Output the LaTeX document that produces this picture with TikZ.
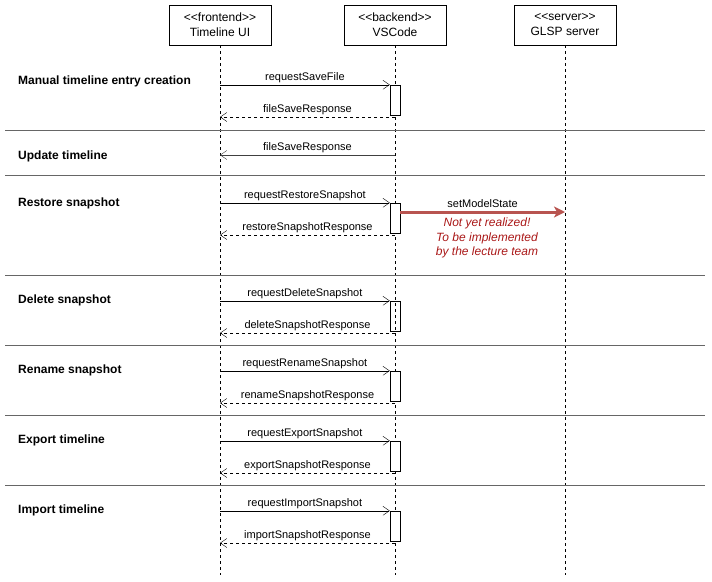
\documentclass[tikz,border=0pt]{standalone}
\usepackage{fontspec}
\setmainfont{Liberation Sans}[Ligatures=TeXOff]
\usepackage{tikz}
\usetikzlibrary{arrows.meta}
\usepackage{xcolor}
\definecolor{arrowred}{HTML}{B85450}
\definecolor{notered}{HTML}{AA1818}

\tikzset{
  head/.style={draw, fill=white, minimum width=102pt, minimum height=40pt, align=center,
    font=\fontsize{12}{15}\selectfont},
  lifeline/.style={dash pattern=on 3pt off 3pt},
  actbox/.style={draw, minimum width=10pt, minimum height=30pt, inner sep=0pt},
  msg/.style={-{Straight Barb[length=6.5pt,width=9pt]}},
  reply/.style={msg, dash pattern=on 3pt off 3pt},
  lbl/.style={above, inner sep=2pt},
  sep/.style={draw=black!60, line width=0.8pt},
  phase/.style={anchor=west, inner sep=0pt, font=\bfseries\fontsize{12}{14}\selectfont},
}

\begin{document}
\begin{tikzpicture}[x=1pt, y=-1pt, font=\fontsize{11}{13}\selectfont]
                \useasboundingbox (0,0) rectangle (712,581);
                % participants
                \node[head] (ui) at (220,25) {<<frontend>>\\Timeline UI};
                \node[head] (vs) at (395,25) {<<backend>>\\VSCode};
                \node[head] (glsp) at (565,25) {<<server>>\\GLSP server};
                \coordinate (uiend) at (220,575);
                \coordinate (vsend) at (395,575);
                \coordinate (glspend) at (565,575);
                \draw[lifeline] (ui) -- (uiend);
                \draw[lifeline] (vs) -- (vsend);
                \draw[lifeline] (glsp) -- (glspend);
                % phase separators
                \foreach \y in {130,175,275,345,415,485} {
                        \draw[sep] (5,\y) -- (705,\y);
                    }
                % request / response pairs
                \foreach \n/\y/\ty/\title/\req/\resp/\fc in {
                        1/85/81/Manual timeline entry creation/requestSaveFile/fileSaveResponse/white,
                        2/203/203/Restore snapshot/requestRestoreSnapshot/restoreSnapshotResponse/white,
                        3/301/300/Delete snapshot/requestDeleteSnapshot/deleteSnapshotResponse/none,
                        4/371/370/Rename snapshot/requestRenameSnapshot/renameSnapshotResponse/white,
                        5/441/440/Export timeline/requestExportSnapshot/exportSnapshotResponse/white,
                        6/511/510/Import timeline/requestImportSnapshot/importSnapshotResponse/white} {
                        \node[phase] (title\n) at (18,\ty) {\title};
                        \node[actbox, fill=\fc] (act\n) at (395,\y+15) {};
                        \coordinate (ret\n) at (395,\y+32);
                        \draw[msg] (ui |- act\n.north) -- node[lbl] {\req} (act\n.north west);
                        \draw[reply] (ret\n) -- node[lbl] {\resp} (ui |- ret\n);
                    }
                % update timeline
                \node[phase] (titleupd) at (18,156) {Update timeline};
                \coordinate (upd) at (395,155);
                \draw[msg, draw=black!75] (upd) -- node[lbl, text=black] {fileSaveResponse} (ui |- upd);
                % not yet realized call
                \coordinate (glspin) at (565,212);
                \draw[arrowred, line width=3pt, -{Stealth[length=11pt,width=11pt,inset=3pt]}]
                    (act2.east |- glspin) -- node[lbl, text=black, inner sep=3pt] {setModelState} (glspin);
                \node[text=notered, align=center, font=\itshape\fontsize{12}{14.5}\selectfont]
                    (note) at (487,238) {Not yet realized!\\To be implemented\\by the lecture team};
            \end{tikzpicture}
\end{document}
